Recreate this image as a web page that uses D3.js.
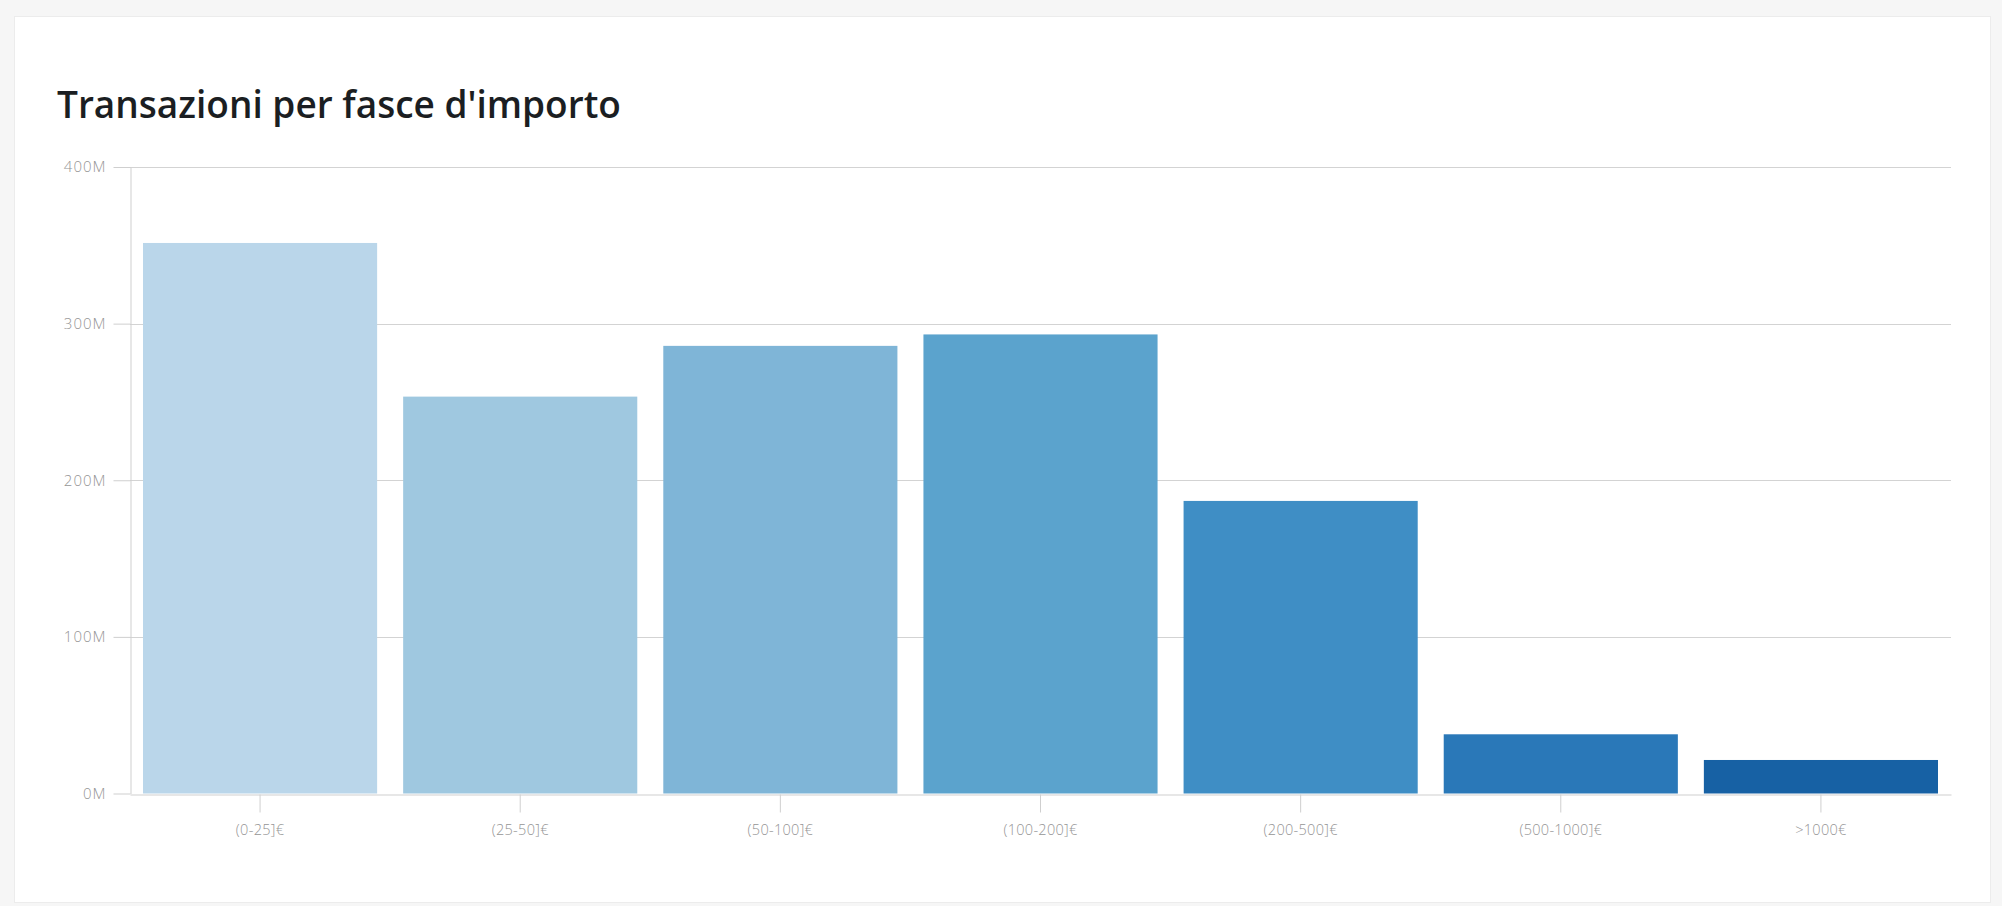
<!DOCTYPE html>
<html>
<head>
<meta charset="utf-8">
<script src="https://cdn.jsdelivr.net/npm/d3@7"></script>
<style>
  html, body { margin: 0; padding: 0; background: #f6f6f6; }
  svg { display: block; }
  .axis text { font-family: "Open Sans", "Noto Sans", sans-serif; font-size: 14.5px; fill: #959595; font-weight: 300; letter-spacing: 0.3px; }
  .axis.y text { font-size: 15px; letter-spacing: 1px; }
  .axis .domain, .axis .tick line { stroke: #cfcfcf; }
</style>
</head>
<body>
<svg id="chart" width="2002" height="906"></svg>
<script>
const title = "Transazioni per fasce d'importo";
const categories = ["(0-25]€", "(25-50]€", "(50-100]€", "(100-200]€", "(200-500]€", "(500-1000]€", ">1000€"];
const values = [351.5e6, 253.4e6, 285.8e6, 293.1e6, 186.8e6, 37.8e6, 21.4e6];
const yTicks = [0, 100e6, 200e6, 300e6, 400e6];
const barColors = ["#bad6ea", "#9fc8e0", "#7fb5d7", "#5ba3cd", "#3f8ec5", "#2a78b8", "#1761a4"];

(function () {
const svg = d3.select("#chart");
const W = 2002, H = 906;
const mLeft = 130, mRight = 1951, mTop = 167, mBottom = 793.5;

// page background + card
svg.append("rect").attr("x", 0).attr("y", 0).attr("width", W).attr("height", H).attr("fill", "#f6f6f6");
svg.append("rect").attr("x", 14.5).attr("y", 16.5).attr("width", 1976).attr("height", 886)
  .attr("fill", "#ffffff").attr("stroke", "#ececec");

// title
svg.append("text")
  .attr("x", 57).attr("y", 118)
  .attr("font-family", "'Open Sans', 'Noto Sans', sans-serif")
  .attr("font-size", 37)
  .attr("font-weight", 600)
  .attr("fill", "#1b1e22")
  .text(title);

const x = d3.scaleBand().domain(categories).range([mLeft, mRight]).paddingInner(0.1).paddingOuter(0.05);
const y = d3.scaleLinear().domain([0, 400e6]).range([mBottom, mTop]);
const color = d3.scaleOrdinal().domain(categories).range(barColors);

// gridlines
svg.append("g").selectAll("line").data(yTicks.slice(1)).join("line")
  .attr("x1", mLeft).attr("x2", mRight)
  .attr("y1", d => Math.round(y(d)) + 0.5).attr("y2", d => Math.round(y(d)) + 0.5)
  .attr("stroke", "#d3d3d3").attr("stroke-width", 1);

// bars
svg.append("g").selectAll("rect").data(categories).join("rect")
  .attr("x", d => x(d))
  .attr("width", x.bandwidth())
  .attr("y", (d, i) => y(values[i]))
  .attr("height", (d, i) => y(0) - y(values[i]))
  .attr("fill", d => color(d));

// y axis
const yAxis = d3.axisLeft(y).tickValues(yTicks).tickSize(17).tickSizeOuter(0).tickPadding(7)
  .tickFormat(d => (d / 1e6) + "M");
svg.append("g").attr("class", "axis y").attr("transform", `translate(${mLeft + 0.5},0)`).call(yAxis);

// x axis
const xAxis = d3.axisBottom(x).tickSize(18).tickSizeOuter(0).tickPadding(12);
svg.append("g").attr("class", "axis x").attr("transform", `translate(0,${Math.round(mBottom) + 0.5})`).call(xAxis);
})();
</script>
</body>
</html>
